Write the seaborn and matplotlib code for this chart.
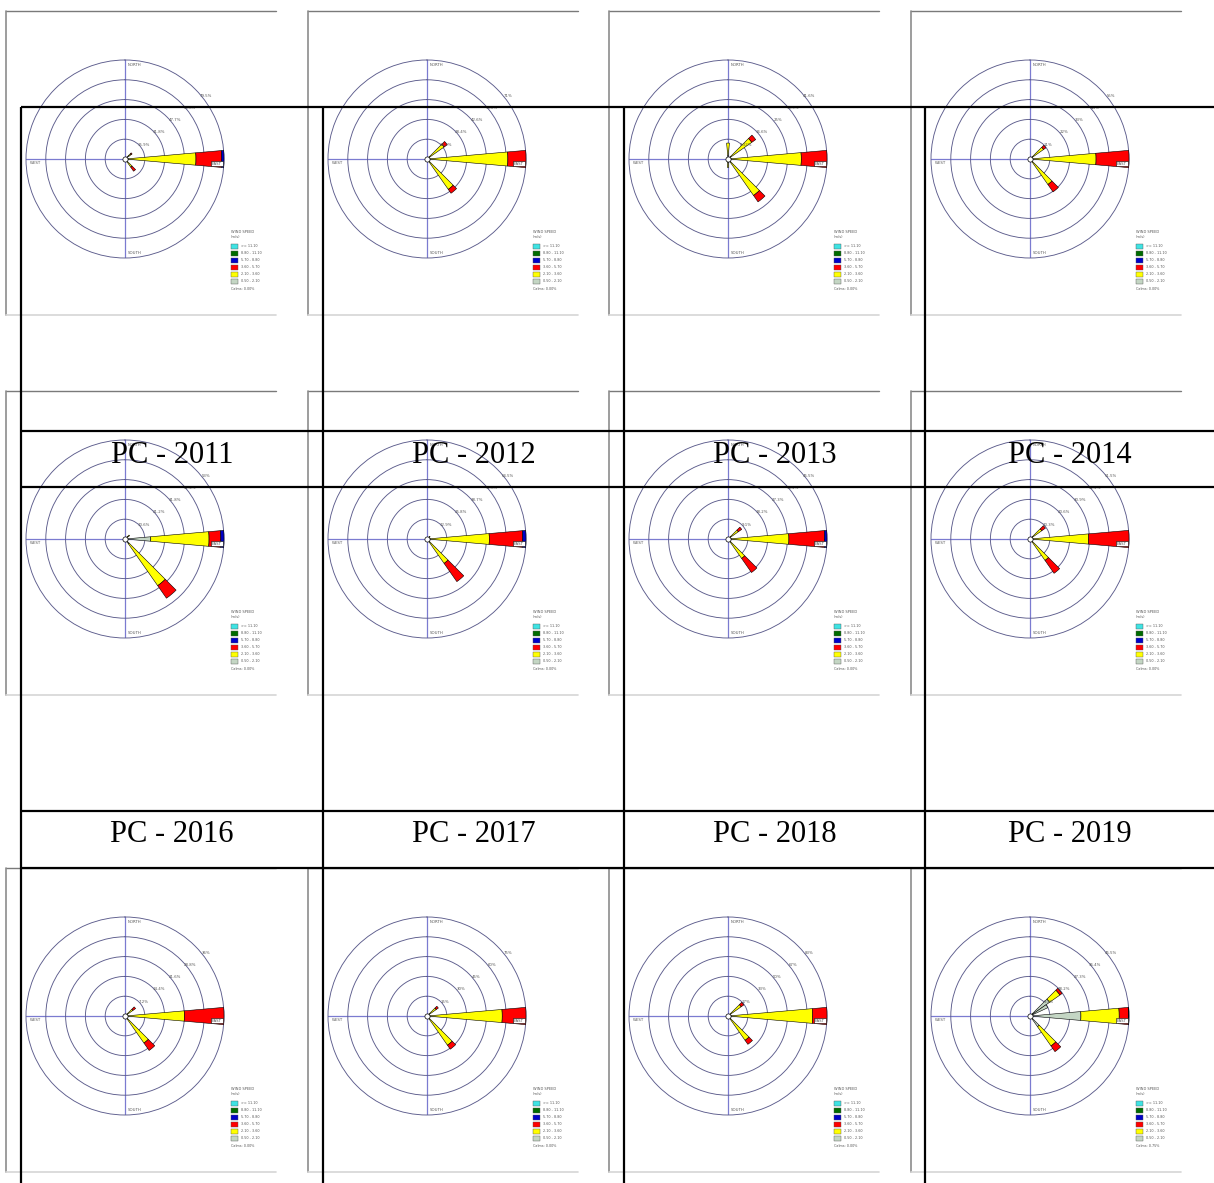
import numpy as np
import matplotlib
matplotlib.use("Agg")
import matplotlib.pyplot as plt
import seaborn as sns
from matplotlib.patches import Rectangle

sns.set_theme(style="white")
plt.rcParams['font.family'] = ['DejaVu Sans']

# ---- data ----
labels = ["PC - 2011", "PC - 2012", "PC - 2013", "PC - 2014",
          "PC - 2016", "PC - 2017", "PC - 2018", "PC - 2019"]

# outer ring value (%) of every rose, row by row
ring_max = [79.5, 71, 41.6, 55, 53, 64.5, 45.5, 51.5, 36, 75, 83, 45.5]
ring_text = [
    ["15.9%", "31.8%", "47.7%", "63.6%", "79.5%"],
    ["14.2%", "28.4%", "42.6%", "56.8%", "71%"],
    ["8.32%", "16.6%", "25%", "33.3%", "41.6%"],
    ["11%", "22%", "33%", "44%", "55%"],
    ["10.6%", "21.2%", "31.8%", "42.4%", "53%"],
    ["12.9%", "25.8%", "38.7%", "51.6%", "64.5%"],
    ["9.1%", "18.2%", "27.3%", "36.4%", "45.5%"],
    ["10.3%", "20.6%", "30.9%", "41.2%", "51.5%"],
    ["7.2%", "14.4%", "21.6%", "28.8%", "36%"],
    ["15%", "30%", "45%", "60%", "75%"],
    ["17%", "33%", "50%", "67%", "83%"],
    ["9.1%", "18.2%", "27.3%", "36.4%", "45.5%"],
]
calms = ["0.00%"] * 11 + ["0.75%"]

# wind directions (deg, blowing from) used by the petals
dirs = [90, 140, 50, 0, 180, 60]

# frequency (%) per speed class and direction, one row per rose
spd_050_210 = [
    [3, 2, 4, 0, 0, 0],
    [2, 2, 2, 0, 0, 0],
    [1.5, 1.5, 1.5, 1.5, 1.5, 0],
    [1.5, 1.5, 1.5, 0, 0, 0],
    [13.8, 3, 2, 0, 0, 0],
    [2, 2, 1.5, 0, 0, 0],
    [1.5, 1.5, 1.5, 0, 0, 0],
    [1.5, 1.5, 1.5, 0, 0, 0],
    [1, 1, 1, 0, 0, 0],
    [2, 2, 2, 0, 0, 0],
    [3, 2, 2, 0, 0, 0],
    [23.4, 6, 11, 0, 0, 9],
]
spd_210_360 = [
    [54, 6, 2, 0, 0, 0],
    [56, 24.6, 13, 0, 0, 0],
    [29.3, 17.2, 10.7, 5.2, 2, 0],
    [35.2, 15.8, 7.7, 0, 0, 0],
    [31.2, 27.5, 1, 0, 0, 0],
    [38.6, 17.4, 1, 0, 0, 0],
    [26.5, 9.4, 4.3, 0, 0, 0],
    [29, 12.1, 6, 0, 0, 0],
    [20.6, 11, 2.5, 0, 0, 0],
    [55, 25, 6.5, 0, 0, 0],
    [68, 22.9, 11.5, 0, 0, 0],
    [17.6, 10.8, 5.8, 0, 0, 0],
]
spd_360_570 = [
    [20.7, 4, 1, 0, 0, 0],
    [13, 3.4, 2.8, 0, 0, 0],
    [10.8, 3.3, 2, 0, 0, 0],
    [18.3, 5, 1.6, 0, 0, 0],
    [6.3, 8.2, 0, 0, 0, 0],
    [21.8, 14.5, 0, 0, 0, 0],
    [16.4, 7.9, 1.9, 0, 0, 0],
    [21, 8.2, 2.3, 0, 0, 0],
    [14.4, 3.3, 1.2, 0, 0, 0],
    [18, 3.7, 2, 0, 0, 0],
    [12, 4.1, 2.7, 0, 0, 0],
    [4.3, 3.2, 1.2, 0, 0, 0],
]
spd_570_880 = [
    [1.8, 0, 0, 0, 0, 0],
    [0, 0, 0, 0, 0, 0],
    [0, 0, 0, 0, 0, 0],
    [0, 0, 0, 0, 0, 0],
    [1.7, 0, 0, 0, 0, 0],
    [2.1, 0, 0, 0, 0, 0],
    [1.1, 0, 0, 0, 0, 0],
    [0, 0, 0, 0, 0, 0],
    [0, 0, 0, 0, 0, 0],
    [0, 0, 0, 0, 0, 0],
    [0, 0, 0, 0, 0, 0],
    [0.2, 0, 0, 0, 0, 0],
]

legend_text = [">= 11.10", "8.80 - 11.10", "5.70 - 8.80",
               "3.60 - 5.70", "2.10 - 3.60", "0.50 - 2.10"]
legend_cols = ["#3fe3e3", "#006b00", "#0000c8", "#ff0000", "#ffff00", "#c4d6c4"]
petal_cols = ["#c4d6c4", "#ffff00", "#ff0000", "#0000c8"]

# ---- page geometry (pixels) ----
W, H = 1214, 1183
col_x = [6, 308, 609, 911]
row_y = [11, 391, 868]
pw, ph = 270, 304
R = 99
ring_col = "#5c5c8c"
axis_col = "#7b7bd0"
txt_col = "#555555"

fig = plt.figure(figsize=(W / 100, H / 100), dpi=100)
fig.patch.set_facecolor("white")

bg = fig.add_axes([0, 0, 1, 1], zorder=0)
bg.set_xlim(0, W)
bg.set_ylim(H, 0)
bg.axis("off")

for i in range(12):
    col, row = i % 4, i // 4
    x0, y0 = col_x[col], row_y[row]

    # frame of the pasted screenshot
    bg.plot([x0, x0 + pw], [y0, y0], color="#7a7a7a", lw=1.0)
    bg.plot([x0, x0], [y0, y0 + ph], color="#8c8c8c", lw=1.2)
    bg.plot([x0, x0 + pw], [y0 + ph, y0 + ph], color="#d6d6d6", lw=1.2)

    # legend
    lx, ly = x0 + 225, y0 + 221
    bg.text(lx, ly, "WIND SPEED", fontsize=2.6, color=txt_col, va="center")
    bg.text(lx, ly + 5, "(m/s)", fontsize=2.6, color=txt_col, va="center")
    for k, (t, c) in enumerate(zip(legend_text, legend_cols)):
        yy = ly + 14 + 7 * k
        bg.add_patch(Rectangle((lx, yy - 2.5), 7, 5, facecolor=c,
                               edgecolor="#555555", lw=0.3))
        bg.text(lx + 10, yy, t, fontsize=2.4, color=txt_col, va="center")
    bg.text(lx, ly + 57, "Calms: " + calms[i], fontsize=2.4,
            color=txt_col, va="center")

    # the rose
    cx, cy = x0 + 119, y0 + 148
    ax = fig.add_axes([(cx - R) / W, 1 - (cy + R) / H, 2 * R / W, 2 * R / H],
                      projection="polar", zorder=2)
    ax.set_theta_zero_location("N")
    ax.set_theta_direction(-1)
    top = ring_max[i]
    ax.set_ylim(0, top)
    rings = [top * f for f in (0.2, 0.4, 0.6, 0.8, 1.0)]
    ax.set_yticks(rings[:-1])
    ax.set_yticklabels([])
    ax.set_xticks(np.deg2rad([0, 90, 180, 270]))
    ax.set_xticklabels([])
    ax.tick_params(length=0, pad=0)
    ax.xaxis.grid(True, color=axis_col, lw=0.9)
    ax.yaxis.grid(True, color=ring_col, lw=0.65)
    ax.spines["polar"].set_color(ring_col)
    ax.spines["polar"].set_linewidth(0.65)
    ax.set_facecolor("white")
    ax.set_axisbelow(True)

    theta = np.deg2rad(dirs)
    bottom = np.zeros(len(dirs))
    for vals, c in zip([spd_050_210[i], spd_210_360[i], spd_360_570[i], spd_570_880[i]],
                       petal_cols):
        v = np.array(vals, dtype=float)
        m = v > 0
        if m.any():
            ax.bar(theta[m], v[m], width=np.deg2rad(10), bottom=bottom[m],
                   color=c, edgecolor="black", linewidth=0.4, zorder=3,
                   clip_on=False)
        bottom += v
    ax.scatter([0], [0], s=14, facecolor="white", edgecolor="black",
               linewidth=0.5, zorder=5, clip_on=False)

    for r, t in zip(rings, ring_text[i]):
        ax.text(np.deg2rad(52), r + 0.035 * top, t, fontsize=2.8,
                color=txt_col, ha="center", va="center")

    ax.text(0.515, 0.985, "NORTH", transform=ax.transAxes, fontsize=2.8,
            color=txt_col, ha="left", va="top")
    ax.text(0.515, 0.015, "SOUTH", transform=ax.transAxes, fontsize=2.8,
            color=txt_col, ha="left", va="bottom")
    ax.text(0.02, 0.48, "WEST", transform=ax.transAxes, fontsize=2.8,
            color=txt_col, ha="left", va="center")
    ax.text(0.99, 0.475, "EAST", transform=ax.transAxes, fontsize=2.8,
            color=txt_col, ha="right", va="center", zorder=6,
            bbox=dict(facecolor="white", edgecolor="black", lw=0.4, pad=0.4))

# ---- table drawn over the pictures ----
ov = fig.add_axes([0, 0, 1, 1], zorder=5)
ov.set_xlim(0, W)
ov.set_ylim(H, 0)
ov.axis("off")
ov.patch.set_alpha(0)

lw_tab = 1.6
for y in [107, 431, 487, 811, 868]:
    ov.plot([21, W], [y, y], color="black", lw=lw_tab, solid_capstyle="butt")
for x in [21, 323, 624, 925]:
    ov.plot([x, x], [107, H], color="black", lw=lw_tab, solid_capstyle="butt")

cell_mid = [172, 473.5, 774.5, 1069.5]
for k, t in enumerate(labels):
    base = 463 if k < 4 else 842
    ov.text(cell_mid[k % 4], base, t, fontsize=22, family="Liberation Serif",
            color="black", ha="center", va="baseline")

fig.savefig("out.png", dpi=100)
